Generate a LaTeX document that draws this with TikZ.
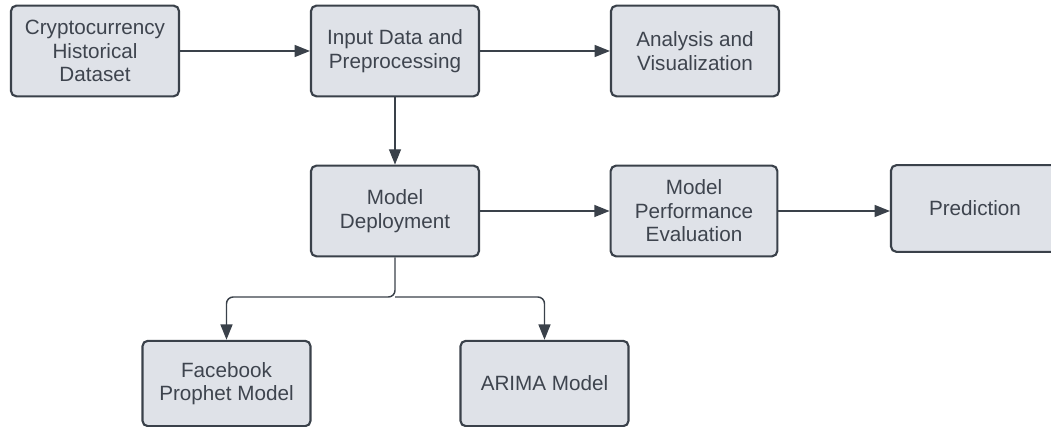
\documentclass[tikz,border=0pt]{standalone}
\usepackage{fontspec}
\setmainfont{Liberation Sans}
\definecolor{boxline}{RGB}{58,65,74}
\definecolor{boxfill}{RGB}{223,226,232}
\definecolor{boxtext}{RGB}{62,68,78}
\usetikzlibrary{arrows.meta,positioning}

\begin{document}
\begin{tikzpicture}[
      x=0.75pt,y=-0.75pt,
      stage/.style={draw=boxline,line width=1.6pt,rounded corners=4pt,
                  fill=boxfill,minimum width=126pt,minimum height=68pt,
                  align=center,text=boxtext,inner sep=2pt,
                  font=\fontsize{15.5}{17.6}\selectfont},
      flow/.style={draw=boxline,line width=1.1pt,rounded corners=5pt,
                  -{Triangle[length=11.5pt,width=9pt]}}]
    \useasboundingbox (0,0) rectangle (1051,427);
    \node[stage] (data) at (95,51) {Cryptocurrency\\Historical\\Dataset};
    \node[stage] (prep) at (395,51) {Input Data and\\Preprocessing};
    \node[stage] (vis) at (695,51) {Analysis and\\Visualization};
    \node[stage] (deploy) at (395,211) {Model\\Deployment};
    \node[stage,minimum width=125pt] (eval) at (694,211) {Model\\Performance\\Evaluation};
    \node[stage,minimum height=65pt] (pred) at (975,208.5) {Prediction};
    \node[stage,minimum height=64pt] (prophet) at (226.5,383.5) {Facebook\\Prophet Model};
    \node[stage,minimum height=64pt] (arima) at (544.5,383.5) {ARIMA Model};
    \coordinate (split) at (395,297);
    \draw[flow] (data) -- (prep);
    \draw[flow] (prep) -- (vis);
    \draw[flow] (prep) -- (deploy);
    \draw[flow] (deploy) -- (eval);
    \draw[flow] (eval.east) -- (pred.west |- eval.east);
    \draw[flow] (deploy) -- (split) -| (prophet);
    \draw[flow] (split) -| (arima);
  \end{tikzpicture}
\end{document}
